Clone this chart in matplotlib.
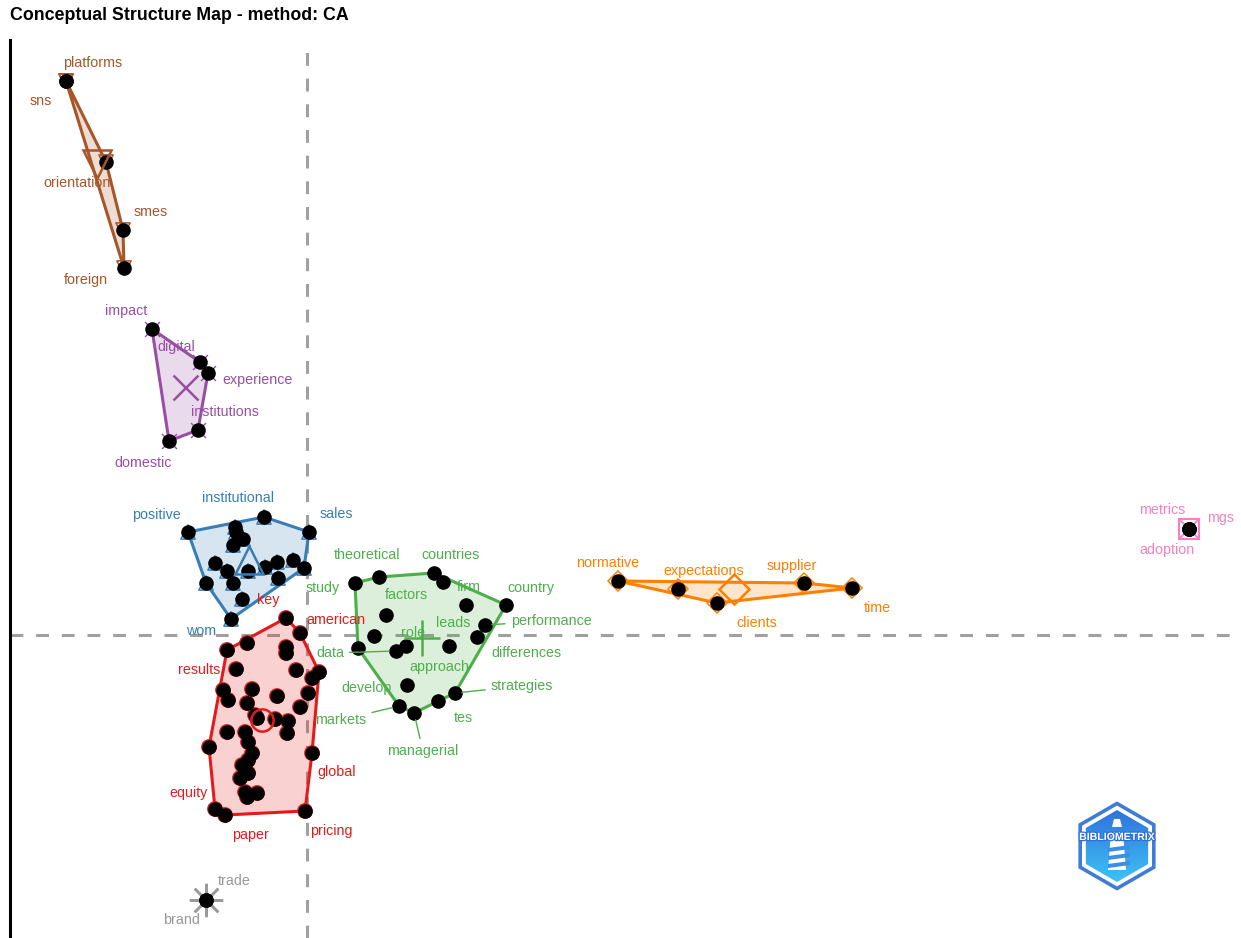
import numpy as np
import matplotlib
matplotlib.use("Agg")
import matplotlib.pyplot as plt
from matplotlib.patches import Polygon
from matplotlib.colors import LinearSegmentedColormap
import matplotlib.patheffects as pe

plt.rcParams['font.family'] = ['Liberation Sans', 'DejaVu Sans']

# ---------------- data (Dim1, Dim2 coordinates of words) ----------------
red_words = ["american", "", "key", "results", "", "", "", "", "", "", "", "", "", "", "",
             "", "", "", "", "", "", "", "", "", "", "", "", "global", "", "", "", "", "",
             "", "", "equity", "paper", "pricing"]
red_dim1 = [-0.21, -0.07, -0.60, -0.80, -0.21, -0.21, -0.71, -0.11, 0.12, 0.05, -0.84, -0.55,
            -0.79, -0.30, 0.01, -0.60, -0.07, -0.52, -0.50, -0.32, -0.19, -0.20, -0.80, -0.62,
            -0.59, -0.98, -0.55, 0.05, -0.59, -0.65, -0.59, -0.67, -0.62, -0.50, -0.60, -0.92,
            -0.82, -0.02]
red_dim2 = [0.17, 0.02, -0.08, -0.15, -0.12, -0.18, -0.34, -0.35, -0.37, -0.43, -0.55, -0.54,
            -0.65, -0.61, -0.58, -0.68, -0.72, -0.80, -0.83, -0.84, -0.86, -0.98, -0.97, -0.97,
            -1.07, -1.12, -1.18, -1.18, -1.25, -1.30, -1.38, -1.43, -1.57, -1.58, -1.62, -1.74,
            -1.80, -1.76]

blue_words = ["positive", "institutional", "sales", "", "", "", "", "", "", "", "", "", "", "",
              "", "", "", "", "wom"]
blue_dim1 = [-1.19, -0.43, 0.02, -0.72, -0.71, -0.64, -0.74, -0.92, -0.80, -0.59, -0.42, -0.30,
             -0.14, -0.03, -1.01, -0.74, -0.29, -0.65, -0.76]
blue_dim2 = [1.03, 1.18, 1.03, 1.08, 1.03, 0.96, 0.90, 0.72, 0.64, 0.64, 0.68, 0.73, 0.75, 0.67,
             0.52, 0.52, 0.57, 0.36, 0.16]

green_words = ["study", "theoretical", "countries", "", "firm", "country", "factors",
               "performance", "role", "differences", "approach", "data", "", "leads", "develop",
               "strategies", "tes", "markets", "managerial"]
green_dim1 = [0.48, 0.72, 1.27, 1.36, 1.59, 1.99, 0.79, 1.78, 0.67, 1.70, 0.99, 0.89, 0.51,
              1.42, 1.00, 1.48, 1.31, 0.92, 1.07]
green_dim2 = [0.52, 0.58, 0.62, 0.53, 0.30, 0.30, 0.20, 0.10, -0.01, -0.02, -0.11, -0.16,
              -0.13, -0.11, -0.50, -0.58, -0.66, -0.71, -0.78]

purple_words = ["impact", "digital", "experience", "institutions", "domestic"]
purple_dim1 = [-1.55, -1.07, -0.99, -1.09, -1.38]
purple_dim2 = [3.06, 2.73, 2.62, 2.05, 1.94]

orange_words = ["normative", "expectations", "clients", "supplier", "time"]
orange_dim1 = [3.11, 3.71, 4.10, 4.97, 5.45]
orange_dim2 = [0.54, 0.46, 0.32, 0.52, 0.47]

brown_words = ["platforms", "sns", "orientation", "smes", "foreign"]
brown_dim1 = [-2.41, -2.41, -2.01, -1.84, -1.83]
brown_dim2 = [5.54, 5.54, 4.73, 4.05, 3.67]

pink_words = ["metrics", "mgs", "adoption"]
pink_dim1 = [8.82, 8.82, 8.82]
pink_dim2 = [1.06, 1.06, 1.06]

grey_words = ["trade", "brand"]
grey_dim1 = [-1.01, -1.01]
grey_dim2 = [-2.65, -2.65]

# ---------------- layout / style ----------------
clusters = [
    (red_words, red_dim1, red_dim2, "#E41A1C", "o"),
    (blue_words, blue_dim1, blue_dim2, "#377EB8", "^"),
    (green_words, green_dim1, green_dim2, "#4DAF4A", "+"),
    (purple_words, purple_dim1, purple_dim2, "#984EA3", "x"),
    (orange_words, orange_dim1, orange_dim2, "#FF7F00", "D"),
    (brown_words, brown_dim1, brown_dim2, "#A65628", "v"),
    (pink_words, pink_dim1, pink_dim2, "#F781BF", "sx"),
    (grey_words, grey_dim1, grey_dim2, "#999999", "ast"),
]

# label offsets in pixels relative to the point (x right, y up)
label_offsets = {
    "platforms": (27, 18), "sns": (-25, -20), "orientation": (-29, -21), "smes": (28, 18),
    "foreign": (-38, -12),
    "impact": (-26, 18), "digital": (-24, 15), "experience": (50, -7),
    "institutions": (27, 18), "domestic": (-26, -22),
    "positive": (-32, 17), "institutional": (-26, 19), "sales": (27, 18), "wom": (-30, -12),
    "american": (50, -2), "key": (21, 43), "results": (-28, -20), "global": (25, -19),
    "equity": (-26, 16), "paper": (25, -20), "pricing": (26, -20),
    "study": (-32, -5), "theoretical": (-12, 22), "countries": (17, 18), "firm": (3, 18),
    "country": (25, 17), "factors": (20, 20), "performance": (66, 4), "leads": (4, 23),
    "role": (39, 3), "data": (-66, -2), "differences": (49, -16), "approach": (33, -21),
    "develop": (-40, -3), "strategies": (67, 7), "tes": (25, -17), "markets": (-58, -14),
    "managerial": (9, -38),
    "normative": (-10, 18), "expectations": (26, 18), "supplier": (-12, 17),
    "clients": (40, -20), "time": (25, -20),
    "metrics": (-27, 19), "mgs": (32, 11), "adoption": (-22, -21),
    "trade": (28, 19), "brand": (-25, -20),
}
leader_words = {"performance", "data", "strategies", "markets", "managerial"}


def convex_hull(pts):
    pts = sorted(set(pts))
    if len(pts) < 3:
        return pts
    def cross(o, a, b):
        return (a[0] - o[0]) * (b[1] - o[1]) - (a[1] - o[1]) * (b[0] - o[0])
    lower, upper = [], []
    for p in pts:
        while len(lower) >= 2 and cross(lower[-2], lower[-1], p) <= 0:
            lower.pop()
        lower.append(p)
    for p in reversed(pts):
        while len(upper) >= 2 and cross(upper[-2], upper[-1], p) <= 0:
            upper.pop()
        upper.append(p)
    return lower[:-1] + upper[:-1]


W, H = 1241, 938
fig = plt.figure(figsize=(W / 100, H / 100), dpi=100)
ax = fig.add_axes([10 / W, 0, (W - 10) / W, 898 / H])
ax.set_xlim(-2.97, 9.34)
ax.set_ylim(-3.03, 5.95)
for s in ["top", "right", "bottom"]:
    ax.spines[s].set_visible(False)
ax.spines["left"].set_linewidth(2.2)
ax.set_xticks([])
ax.set_yticks([])

ax.axvline(0, color="#A0A0A0", lw=2.2, ls=(0, (4.2, 4.2)), zorder=1)
ax.axhline(0, color="#A0A0A0", lw=2.2, ls=(0, (4.2, 4.2)), zorder=1)

for words, d1, d2, col, mk in clusters:
    pts = list(zip(d1, d2))
    hull = convex_hull(pts)
    if len(hull) >= 3:
        ax.add_patch(Polygon(hull, closed=True, fc=col, alpha=0.2, ec="none", zorder=2))
        ax.add_patch(Polygon(hull, closed=True, fc="none", ec=col, lw=2.2, zorder=3,
                             joinstyle="round"))
    # small cluster shapes under the points
    if mk == "sx":
        pass
    elif mk == "ast":
        ax.scatter(d1, d2, s=110, marker=(8, 2, 0), color=col, lw=1.0, zorder=4)
    elif mk in ("+", "x"):
        ax.scatter(d1, d2, s=115, marker=mk, color=col, lw=1.0, zorder=4)
    else:
        ax.scatter(d1, d2, s=105, marker=mk, facecolors="none", edgecolors=col, lw=1.1, zorder=4)
    ax.scatter(d1, d2, s=110, color="black", zorder=5, lw=0)
    # centroid marker
    cx, cy = np.mean(d1), np.mean(d2)
    if mk == "sx":
        ax.plot(cx, cy, marker="s", ms=15, mfc="none", mec=col, mew=1.5, zorder=4)
        ax.plot(cx, cy, marker="x", ms=13, color=col, mew=1.3, zorder=4)
    elif mk == "ast":
        ax.plot(cx, cy, marker=(8, 2, 0), ms=24, color=col, mew=1.8, zorder=4)
    elif mk == "o":
        ax.plot(cx, cy, marker="o", ms=16, mfc="none", mec=col, mew=1.8, zorder=6)
    elif mk == "+":
        ax.plot(cx, cy, marker="+", ms=26, color=col, mew=1.8, zorder=6)
    elif mk == "x":
        ax.plot(cx, cy, marker="x", ms=18, color=col, mew=1.8, zorder=6)
    elif mk == "D":
        ax.plot(cx, cy, marker="D", ms=15, mfc="none", mec=col, mew=1.8, zorder=6)
    else:
        ax.plot(cx, cy, marker=mk, ms=20, mfc="none", mec=col, mew=1.8, zorder=6)
    # labels
    for w, x, y in zip(words, d1, d2):
        if not w:
            continue
        off = label_offsets.get(w, (0, 15))
        kw = {}
        if w in leader_words:
            kw["arrowprops"] = dict(arrowstyle="-", color=col, lw=1.0, shrinkA=2, shrinkB=5)
        ax.annotate(w, (x, y), xytext=off, textcoords="offset pixels", ha="center",
                    va="center", color=col, fontsize=10.3, zorder=7, **kw)

fig.text(10 / W, 1 - 16 / H, "Conceptual Structure Map - method: CA", fontsize=12.8,
         fontweight="bold", ha="left", va="center")

# ---------------- logo ----------------
lax = fig.add_axes([1073 / W, 1 - 891 / H, 88 / W, 90 / H])
lax.set_xlim(-44, 44)
lax.set_ylim(-45, 45)
lax.axis("off")


def hexv(r, cy=0.0):
    a = np.deg2rad(90 + 60 * np.arange(6))
    return np.c_[r * np.cos(a), cy + r * np.sin(a)]


outer_ring = Polygon(hexv(42.5), closed=True, fc="none", ec="#3F7BD8", lw=2.6)
lax.add_patch(outer_ring)
inner = Polygon(hexv(36), closed=True, fc="none", ec="none")
lax.add_patch(inner)
grad = np.linspace(0, 1, 100).reshape(-1, 1)
cm = LinearSegmentedColormap.from_list("lg", ["#2F6FDB", "#3FC6F5"])
im = lax.imshow(grad, extent=[-40, 40, -40, 40], origin="upper", cmap=cm, aspect="auto",
                zorder=1)
im.set_clip_path(inner)
# lighthouse
lax.add_patch(Polygon([[-3, 27], [3, 27], [5, 19], [-5, 19]], closed=True, fc="white", ec="none", zorder=2))
lax.add_patch(Polygon([[-6, 14], [6, 14], [9, -24], [-9, -24]], closed=True, fc="white", ec="none", zorder=2))
for yy in (-2, -10, -18):
    lax.add_patch(Polygon([[-9, yy], [13, yy + 3], [13, yy - 1], [-9, yy - 4]], closed=True,
                          fc="#3C8EE5", ec="none", zorder=3))
t = lax.text(0, 9, "BIBLIOMETRIX", ha="center", va="center", fontsize=7.6, fontweight="bold",
             color="white", zorder=4)
t.set_path_effects([pe.withStroke(linewidth=1.8, foreground="#2F6FDB")])

fig.savefig("out.png", dpi=100)
